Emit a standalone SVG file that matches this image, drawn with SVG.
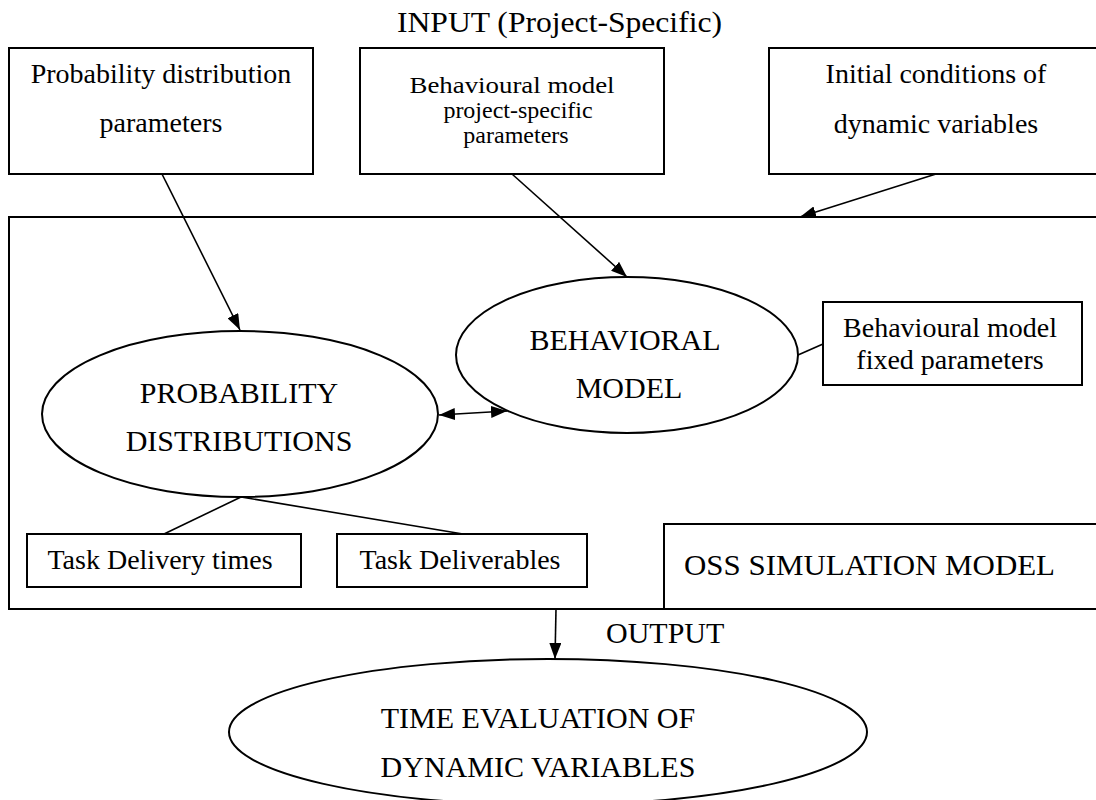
<svg xmlns="http://www.w3.org/2000/svg" width="1096" height="800" viewBox="0 0 1096 800">
  <defs>
    <style>
      .box { fill: #fff; stroke: #000; stroke-width: 2; }
      .frame { fill: none; stroke: #000; stroke-width: 2; }
      .ell { fill: #fff; stroke: #000; stroke-width: 2; }
      .link { fill: none; stroke: #000; stroke-width: 1.6; }
      .t { font-family: "Liberation Serif", "Times New Roman", serif; fill: #000; }
      .s { font-size: 28px; }
      .m { font-size: 24px; }
      .b { font-size: 30px; }
      .c { text-anchor: middle; }
    </style>
    <marker id="arrow" viewBox="0 0 16 12" refX="16" refY="6" markerWidth="16" markerHeight="12" markerUnits="userSpaceOnUse" orient="auto-start-reverse">
      <path d="M0,0 L16,6 L0,12 z" fill="#000"/>
    </marker>
  </defs>

  <rect width="1096" height="800" fill="#fff"/>

  <!-- heading -->
  <text class="t b" x="397" y="32" textLength="325" lengthAdjust="spacingAndGlyphs">INPUT (Project-Specific)</text>

  <!-- simulation model frame -->
  <g id="simulation-frame">
    <rect class="frame" x="9" y="217" width="1100" height="392"/>
  </g>

  <g id="prob-params">
    <rect class="box" x="9" y="48" width="304" height="126"/>
    <text class="t s c" x="161" y="83">Probability distribution</text>
    <text class="t s c" x="161" y="132">parameters</text>
  </g>

  <g id="behav-params">
    <rect class="box" x="360" y="48" width="304" height="126"/>
    <text class="t m c" x="512" y="93" textLength="205" lengthAdjust="spacingAndGlyphs">Behavioural model</text>
    <text class="t m c" x="518" y="118">project-specific</text>
    <text class="t m c" x="516" y="143">parameters</text>
  </g>

  <g id="initial-conditions">
    <rect class="box" x="769" y="48" width="340" height="126"/>
    <text class="t s c" x="936" y="83">Initial conditions of</text>
    <text class="t s c" x="936" y="133">dynamic variables</text>
  </g>

  <g id="connectors">
    <line class="link" x1="162" y1="174" x2="240" y2="330" marker-end="url(#arrow)"/>
    <line class="link" x1="512" y1="174" x2="627" y2="277" marker-end="url(#arrow)"/>
    <line class="link" x1="936" y1="174" x2="800" y2="217" marker-end="url(#arrow)"/>
    <line class="link" x1="439" y1="415" x2="507" y2="411" marker-start="url(#arrow)" marker-end="url(#arrow)"/>
    <line class="link" x1="798" y1="355" x2="823" y2="344"/>
    <line class="link" x1="241" y1="497" x2="164" y2="534"/>
    <line class="link" x1="241" y1="497" x2="463" y2="534"/>
    <line class="link" x1="556" y1="609" x2="555" y2="659" marker-end="url(#arrow)"/>
  </g>

  <g id="prob-distributions">
    <ellipse class="ell" cx="240" cy="414" rx="198" ry="83"/>
    <text class="t b c" x="239" y="403">PROBABILITY</text>
    <text class="t b c" x="239" y="451">DISTRIBUTIONS</text>
  </g>

  <g id="behavioral-model">
    <ellipse class="ell" cx="627" cy="355" rx="171" ry="78"/>
    <text class="t b c" x="625" y="350">BEHAVIORAL</text>
    <text class="t b c" x="629" y="398">MODEL</text>
  </g>

  <g id="fixed-params">
    <rect class="box" x="823" y="302" width="259" height="83"/>
    <text class="t s c" x="950" y="337">Behavioural model</text>
    <text class="t s c" x="950" y="369">fixed parameters</text>
  </g>

  <g id="delivery-times">
    <rect class="box" x="27" y="534" width="274" height="53"/>
    <text class="t s c" x="160" y="569">Task Delivery times</text>
  </g>

  <g id="deliverables">
    <rect class="box" x="337" y="534" width="250" height="53"/>
    <text class="t s c" x="460" y="569">Task Deliverables</text>
  </g>

  <g id="oss-label">
    <rect class="box" x="664" y="524" width="450" height="85"/>
    <text class="t b" x="684" y="575" textLength="371" lengthAdjust="spacingAndGlyphs">OSS SIMULATION MODEL</text>
  </g>

  <text class="t b" x="606" y="643">OUTPUT</text>

  <g id="time-evaluation">
    <ellipse class="ell" cx="548" cy="732" rx="319" ry="73"/>
    <text class="t b c" x="538" y="728">TIME EVALUATION OF</text>
    <text class="t b c" x="538" y="777">DYNAMIC VARIABLES</text>
  </g>
</svg>
